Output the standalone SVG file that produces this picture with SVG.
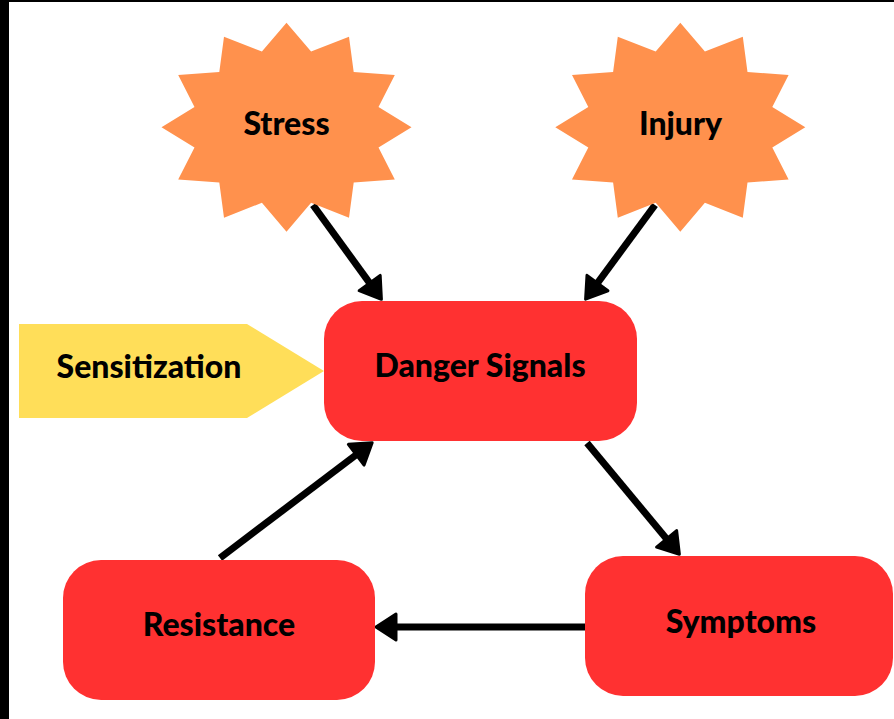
<svg xmlns="http://www.w3.org/2000/svg" width="894" height="719" viewBox="0 0 894 719">
<defs>
<style>
.lbl{font-family:Lato,"Open Sans","Liberation Sans",sans-serif;font-weight:900;font-size:32px;fill:#000;text-anchor:middle}
.star{fill:#FF914D}
.box{fill:#FF3131}
.conn{stroke:#000;stroke-width:7;fill:none;marker-end:url(#ah)}
</style>
<marker id="ah" viewBox="0 0 24 30" refX="7" refY="15" markerWidth="24" markerHeight="30" markerUnits="userSpaceOnUse" orient="auto">
<path d="M2,2 L22,15 L2,28 Z" fill="#000" stroke="#000" stroke-width="3" stroke-linejoin="round"/>
</marker>
</defs>
<rect x="0" y="0" width="894" height="719" fill="#fff"/>
<rect x="0" y="0" width="894" height="2" fill="#000"/>
<rect x="0" y="0" width="9" height="719" fill="#000"/>

<g id="connectors">
<line class="conn" x1="313" y1="205" x2="372.6" y2="287.1"/>
<line class="conn" x1="655" y1="205" x2="594.5" y2="287.1"/>
<line class="conn" x1="587" y1="443" x2="669.8" y2="542.7"/>
<line class="conn" x1="220" y1="558" x2="360.2" y2="451.7"/>
<line class="conn" x1="585" y1="627" x2="391" y2="627"/>
</g>

<g id="stress">
<path class="star" transform="translate(286.5,127.2)" d="M0,-104.5 L24.6,-75.6 L62.5,-90.5 L67.2,-55.2 L108.3,-52.3 L92,-20.2 L125,0 L92,20.2 L108.3,52.3 L67.2,55.2 L62.5,90.5 L24.6,75.6 L0,104.5 L-24.6,75.6 L-62.5,90.5 L-67.2,55.2 L-108.3,52.3 L-92,20.2 L-125,0 L-92,-20.2 L-108.3,-52.3 L-67.2,-55.2 L-62.5,-90.5 L-24.6,-75.6 Z"/>
<text class="lbl" x="286.5" y="135">Stress</text>
</g>

<g id="injury">
<path class="star" transform="translate(680.3,127.2)" d="M0,-104.5 L24.6,-75.6 L62.5,-90.5 L67.2,-55.2 L108.3,-52.3 L92,-20.2 L125,0 L92,20.2 L108.3,52.3 L67.2,55.2 L62.5,90.5 L24.6,75.6 L0,104.5 L-24.6,75.6 L-62.5,90.5 L-67.2,55.2 L-108.3,52.3 L-92,20.2 L-125,0 L-92,-20.2 L-108.3,-52.3 L-67.2,-55.2 L-62.5,-90.5 L-24.6,-75.6 Z"/>
<text class="lbl" x="680.5" y="135">Injury</text>
</g>

<g id="sensitization">
<polygon points="19,324 247,324 324,371 247,418 19,418" fill="#FFDE59"/>
<text class="lbl" x="149" y="378">Sensitization</text>
</g>

<g id="danger-signals">
<rect class="box" x="324" y="301" width="313" height="140" rx="38" ry="38"/>
<text class="lbl" x="480" y="377">Danger Signals</text>
</g>

<g id="symptoms">
<rect class="box" x="585" y="556" width="308" height="140" rx="38" ry="38"/>
<text class="lbl" x="741" y="633">Symptoms</text>
</g>

<g id="resistance">
<rect class="box" x="63" y="560" width="312" height="140" rx="38" ry="38"/>
<text class="lbl" x="219" y="636">Resistance</text>
</g>
</svg>
